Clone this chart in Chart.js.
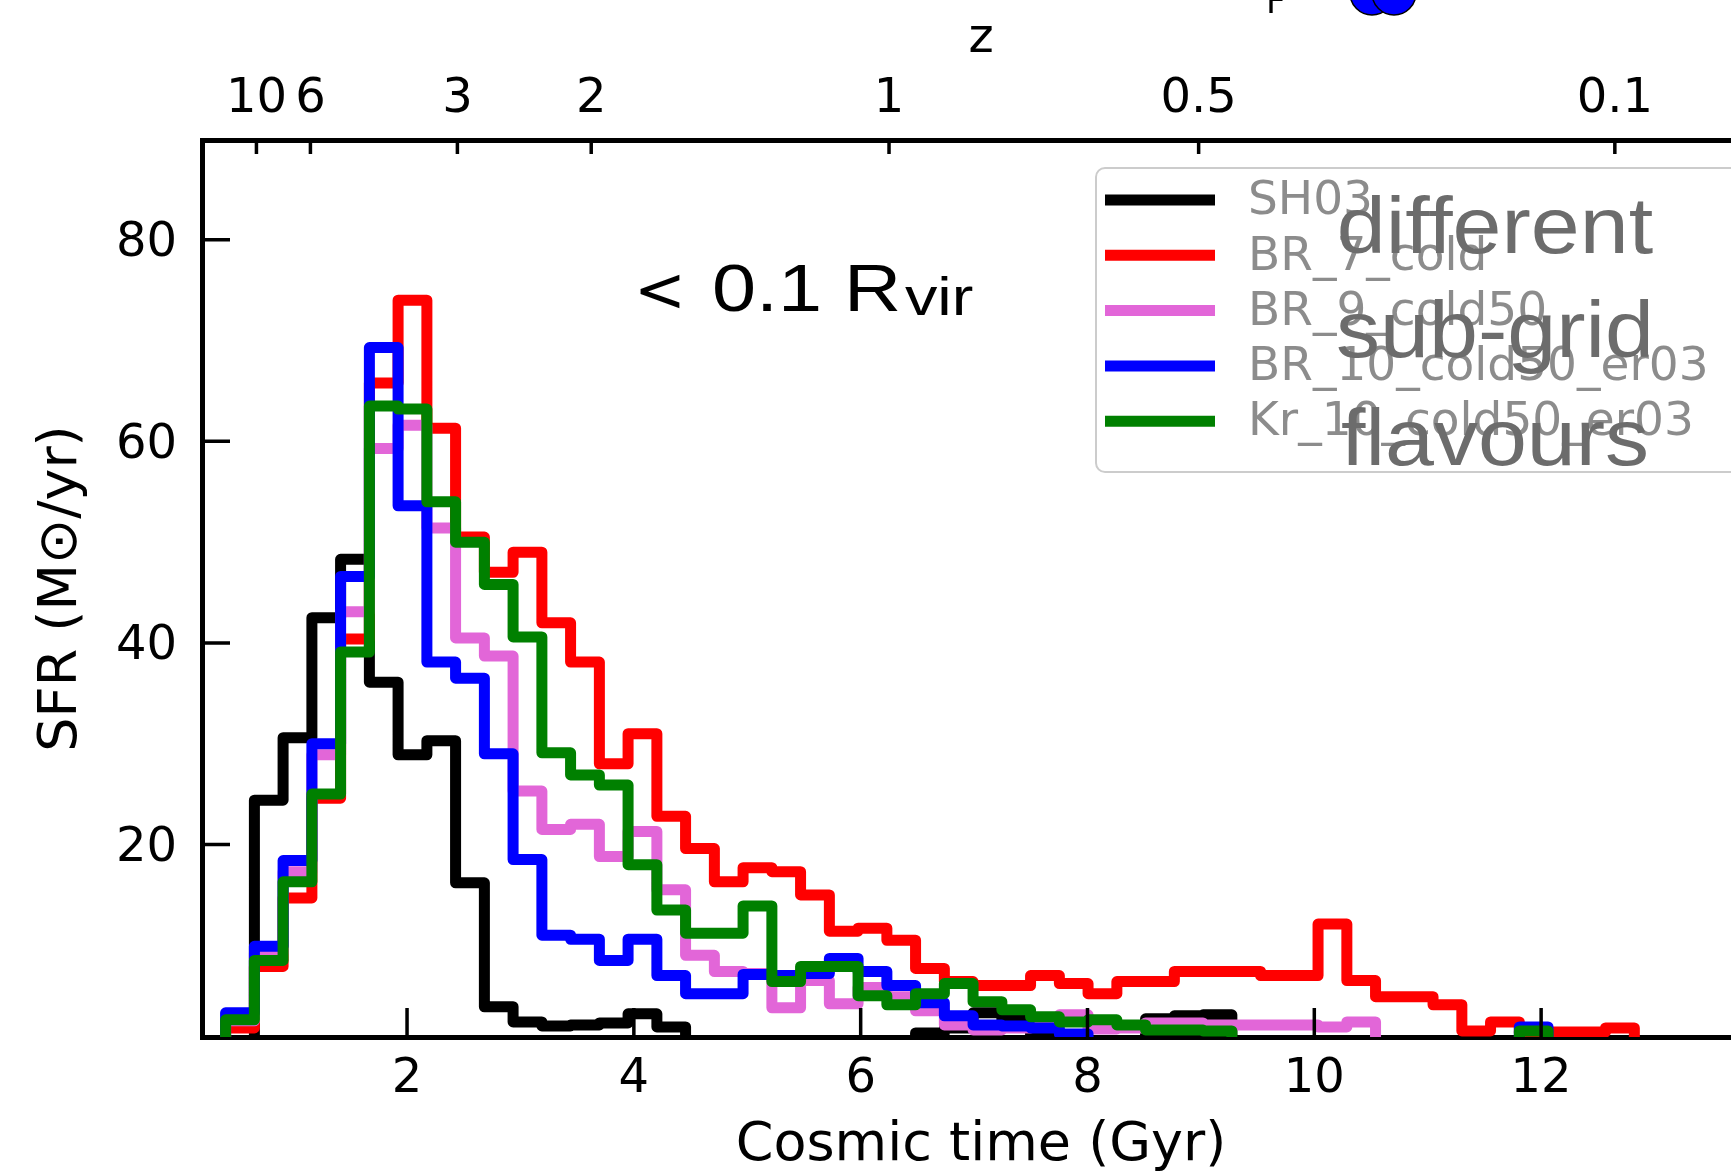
<!DOCTYPE html>
<html>
<head>
<meta charset="utf-8">
<title>SFR within 0.1 Rvir</title>
<script src="https://cdn.jsdelivr.net/npm/chart.js@4.4.1/dist/chart.umd.min.js"></script>
<style>
    html, body { margin: 0; padding: 0; background: #ffffff; overflow: hidden; }
    #sfrChart { display: block; }
</style>
</head>
<body>
<canvas id="sfrChart" width="1760" height="1172"></canvas>
<script>
// histogram bin edges, cosmic time (Gyr)
const binEdges = [0.400, 0.654, 0.907, 1.161, 1.414, 1.668, 1.921, 2.175, 2.428, 2.682,
    2.935, 3.189, 3.442, 3.696, 3.949, 4.203, 4.456, 4.710, 4.963, 5.217,
    5.470, 5.724, 5.977, 6.231, 6.484, 6.738, 6.991, 7.245, 7.498, 7.752,
    8.005, 8.259, 8.512, 8.766, 9.019, 9.273, 9.526, 9.780, 10.033, 10.287,
    10.540, 10.794, 11.047, 11.301, 11.554, 11.808, 12.061, 12.315, 12.568, 12.822];

// SFR per bin (Msun/yr), one list per sub-grid model
const sh03 = [
    0, 24.4, 30.6, 42.5, 48.3, 36.1, 28.9, 30.3, 16.2, 3.9,
    2.4, 2.0, 2.1, 2.3, 3.2, 1.9, 0, 0, 0, 0,
    0, 0, 0, 0, 1.3, 1.8, 3.3, 2.6, 1.0, 0,
    0, 0, 2.7, 3.0, 3.1, 0, 0, 0, 0, 0,
    0, 0, 0, 0, 0, 0, 0, 0, 0];
const br7Cold = [
    1.8, 7.9, 14.7, 24.6, 40.4, 65.8, 74.0, 61.3, 50.5, 47.0,
    49.0, 42.0, 38.1, 28.0, 31.0, 22.8, 19.6, 16.3, 17.7, 17.3,
    15.0, 11.4, 11.7, 10.5, 7.7, 6.4, 6.0, 6.0, 7.0, 6.2,
    5.2, 6.4, 6.4, 7.4, 7.4, 7.4, 7.0, 7.0, 12.1, 6.5,
    4.9, 4.9, 4.1, 1.5, 2.4, 1.3, 1.4, 1.4, 1.8];
const br9Cold50 = [
    2.5, 9.2, 17.3, 28.9, 43.1, 59.3, 61.6, 51.4, 40.5, 38.7,
    25.3, 21.5, 22.0, 18.8, 21.3, 15.5, 9.0, 7.4, 7.2, 3.8,
    6.5, 4.2, 5.8, 4.9, 3.5, 2.1, 1.6, 1.8, 2.1, 3.1,
    1.7, 1.8, 2.3, 2.3, 2.1, 2.1, 2.1, 2.1, 1.9, 2.4,
    0, 0, 0, 0, 0, 0, 0, 0, 0];
const br10Cold50Er03 = [
    3.3, 9.9, 18.4, 30.0, 46.6, 69.3, 53.6, 38.1, 36.5, 29.0,
    18.5, 11.0, 10.6, 8.5, 10.6, 7.0, 5.2, 5.2, 7.1, 7.0,
    7.2, 8.7, 7.4, 6.0, 4.3, 3.0, 2.1, 2.0, 1.8, 1.2,
    0, 0, 0, 0, 0, 0, 0, 0, 0, 0,
    0, 0, 0, 0, 0, 1.9, 0, 0, 0];
const kr10Cold50Er03 = [
    2.6, 8.5, 16.3, 25.0, 39.1, 63.5, 63.2, 54.0, 50.0, 45.8,
    40.6, 29.1, 26.9, 25.9, 18.0, 13.5, 11.2, 11.2, 13.9, 6.4,
    7.9, 7.9, 5.0, 4.1, 5.2, 6.2, 4.4, 3.6, 2.9, 2.4,
    2.6, 2.1, 1.6, 1.6, 1.5, 0, 0, 0, 0, 0,
    0, 0, 0, 0, 0, 1.5, 0, 0, 0];

const seriesLabels = ['SH03', 'BR_7_cold', 'BR_9_cold50', 'BR_10_cold50_er03', 'Kr_10_cold50_er03'];
const seriesColors = ['#000000', '#ff0000', '#e266d8', '#0000ff', '#008000'];

// axis ticks
const timeTicks = [2, 4, 6, 8, 10, 12];
const sfrTicks = [20, 40, 60, 80];
const zTickLabels = ['10', '6', '3', '2', '1', '0.5', '0.1'];
const zTickTimes = [0.672, 1.148, 2.444, 3.624, 6.25, 8.98, 12.65];

Chart.defaults.font.family = "'DejaVu Sans', sans-serif";
Chart.defaults.color = '#000000';

// step outline like matplotlib histtype='step'
function stepOutline(values) {
    const pts = [{ x: binEdges[0], y: 0 }];
    values.forEach((v, i) => {
        pts.push({ x: binEdges[i], y: v });
        pts.push({ x: binEdges[i + 1], y: v });
    });
    pts.push({ x: binEdges[values.length], y: 0 });
    return pts;
}

const LINE_W = 11;
const seriesValues = [sh03, br7Cold, br9Cold50, br10Cold50Er03, kr10Cold50Er03];
const datasets = seriesValues.map((vals, i) => ({
    label: seriesLabels[i],
    data: stepOutline(vals),
    borderColor: seriesColors[i],
    backgroundColor: seriesColors[i],
    borderWidth: LINE_W,
    borderJoinStyle: 'round',
    pointRadius: 0,
    fill: false,
    tension: 0,
    order: seriesValues.length - i   // last model drawn on top
}));

const X_MIN = 0.192, X_MAX = 13.93;

const axisFont = { size: 48 };
const titleFont = { size: 54 };
const spine = { display: true, color: '#000000', width: 5 };

// inward tick marks, legend and the text annotations
const decorations = {
    id: 'decorations',
    afterDraw(chart) {
        const { ctx, chartArea: a, scales } = chart;
        ctx.save();

        ctx.strokeStyle = '#000000';
        ctx.lineWidth = 3.5;
        ctx.beginPath();
        scales.y.ticks.forEach(t => {
            const y = scales.y.getPixelForValue(t.value);
            ctx.moveTo(a.left, y); ctx.lineTo(a.left + 28, y);
        });
        scales.x.ticks.forEach(t => {
            const x = scales.x.getPixelForValue(t.value);
            ctx.moveTo(x, a.bottom); ctx.lineTo(x, a.bottom - 29);
        });
        scales.xTop.ticks.forEach(t => {
            const x = scales.xTop.getPixelForValue(t.value);
            ctx.moveTo(x, a.top); ctx.lineTo(x, a.top + 14);
        });
        ctx.stroke();

        // region label
        ctx.fillStyle = '#000000';
        ctx.textBaseline = 'alphabetic';
        ctx.textAlign = 'left';
        ctx.font = "62px 'DejaVu Sans'";
        ctx.fillText('<', 634, 311);
        ctx.save();
        ctx.translate(712, 311);
        ctx.scale(1.2, 1);
        ctx.font = "66px 'Liberation Sans'";
        ctx.fillText('0.1 R', 0, 0);
        const rw = ctx.measureText('0.1 R').width;
        ctx.font = "54px 'Liberation Sans'";
        ctx.fillText('vir', rw + 3, 4);
        ctx.restore();

        // legend frame
        const lx = 1096, ly = 168, lw = 720, lh = 304, r = 9;
        ctx.beginPath();
        ctx.moveTo(lx + r, ly);
        ctx.lineTo(lx + lw, ly);
        ctx.lineTo(lx + lw, ly + lh);
        ctx.lineTo(lx + r, ly + lh);
        ctx.arcTo(lx, ly + lh, lx, ly + lh - r, r);
        ctx.lineTo(lx, ly + r);
        ctx.arcTo(lx, ly, lx + r, ly, r);
        ctx.closePath();
        ctx.fillStyle = 'rgba(255,255,255,0.8)';
        ctx.fill();
        ctx.strokeStyle = '#cccccc';
        ctx.lineWidth = 2;
        ctx.stroke();

        ctx.font = "47px 'DejaVu Sans'";
        ctx.textBaseline = 'middle';
        chart.data.datasets.forEach((ds, i) => {
            const y = 200 + i * 55.3;
            ctx.strokeStyle = ds.borderColor;
            ctx.lineWidth = LINE_W;
            ctx.beginPath();
            ctx.moveTo(1105, y); ctx.lineTo(1215, y);
            ctx.stroke();
            ctx.fillStyle = '#8c8c8c';
            ctx.fillText(ds.label, 1248, y + 2);
        });

        // overlaid caption
        ctx.fillStyle = '#6c6c6c';
        ctx.textAlign = 'center';
        ctx.textBaseline = 'alphabetic';
        ctx.font = "80px 'Liberation Sans'";
        [['different', 253], ['sub-grid', 357], ['flavours', 465]].forEach(([txt, y]) => {
            ctx.save();
            ctx.translate(1495, y);
            ctx.scale(1.1, 1);
            ctx.fillText(txt, 0, 0);
            ctx.restore();
        });

        // cropped pieces of the panel above
        ctx.fillStyle = '#000000';
        ctx.textAlign = 'left';
        ctx.font = "34px 'DejaVu Sans'";
        ctx.fillText('F', 1266, 13);
        ctx.fillStyle = '#0000ff';
        ctx.strokeStyle = '#000000';
        ctx.lineWidth = 1.5;
        [[1372, -7], [1394, -7]].forEach(([cx, cy]) => {
            ctx.beginPath();
            ctx.arc(cx, cy, 22, 0, Math.PI * 2);
            ctx.fill();
            ctx.stroke();
        });

        ctx.restore();
    }
};

new Chart(document.getElementById('sfrChart'), {
    type: 'line',
    data: { datasets: datasets },
    options: {
        responsive: false,
        animation: false,
        layout: { padding: 0 },
        plugins: {
            legend: { display: false },
            tooltip: { enabled: false }
        },
        scales: {
            x: {
                type: 'linear',
                position: 'bottom',
                min: X_MIN,
                max: X_MAX,
                z: 1,
                afterBuildTicks: s => { s.ticks = timeTicks.map(v => ({ value: v })); },
                afterFit: s => { s.height = 135; },
                grid: { display: false, drawTicks: false },
                border: spine,
                ticks: { font: axisFont, padding: 14, maxRotation: 0, autoSkip: false },
                title: { display: true, text: 'Cosmic time (Gyr)', font: titleFont, padding: { top: 0, bottom: -6 } }
            },
            xTop: {
                type: 'linear',
                position: 'top',
                min: X_MIN,
                max: X_MAX,
                z: 1,
                afterBuildTicks: s => { s.ticks = zTickTimes.map(v => ({ value: v })); },
                afterFit: s => { s.height = 140; },
                grid: { display: false, drawTicks: false },
                border: spine,
                ticks: {
                    font: axisFont, padding: 12, maxRotation: 0, autoSkip: false,
                    callback: (v, i) => zTickLabels[i]
                },
                title: { display: true, text: 'z', font: axisFont, padding: { top: 11, bottom: 0 } }
            },
            y: {
                type: 'linear',
                position: 'left',
                min: 0.9,
                max: 89.9,
                z: 1,
                afterBuildTicks: s => { s.ticks = sfrTicks.map(v => ({ value: v })); },
                afterFit: s => { s.width = 202; },
                grid: { display: false, drawTicks: false },
                border: spine,
                ticks: { font: axisFont, padding: 25, labelOffset: 4 },
                title: { display: true, text: 'SFR (M\u2299/yr)', font: titleFont, padding: { top: 30, bottom: 0 } }
            }
        }
    },
    plugins: [decorations]
});
</script>
</body>
</html>
